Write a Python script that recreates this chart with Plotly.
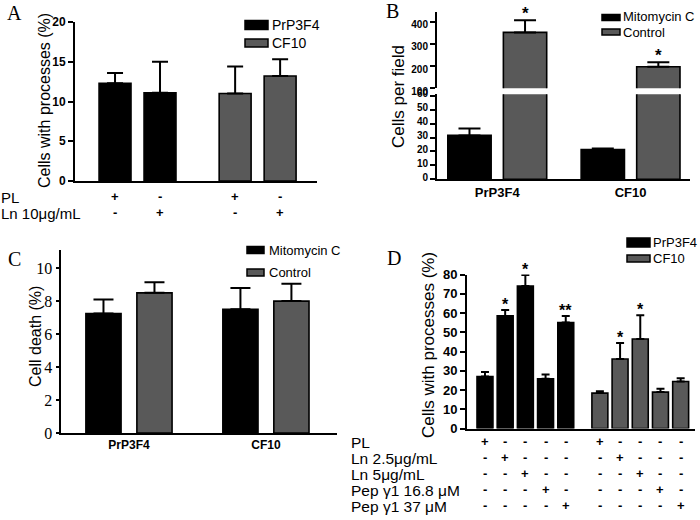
import plotly.graph_objects as go

W, H = 700, 520
SANS = "Liberation Sans, Arial, sans-serif"
SERIF = "Liberation Serif, Times New Roman, serif"
BLACK = "#000000"
GREY = "#595959"

# ---------------- data ----------------
# Panel A
A_cells = ["PrP3F4", "CF10"]
A_pl = ["+", "-", "+", "-"]
A_ln = ["-", "+", "-", "+"]
A_prp = [12.3, 11.1]
A_prp_err = [1.3, 3.9]
A_cf = [11.0, 13.2]
A_cf_err = [3.4, 2.1]
A_yticks = [0, 5, 10, 15, 20]

# Panel B
B_cells = ["PrP3F4", "CF10"]
B_mito = [31.5, 21.4]
B_mito_err = [5.0, 0.7]
B_ctrl = [352, 197]
B_ctrl_err = [55, 21]
B_ctrl_sig = ["*", "*"]
B_yticks_low = [0, 10, 20, 30, 40, 50, 60]
B_yticks_high = [100, 200, 300, 400]

# Panel C
C_cells = ["PrP3F4", "CF10"]
C_mito = [7.25, 7.5]
C_mito_err = [0.85, 1.3]
C_ctrl = [8.5, 8.0]
C_ctrl_err = [0.65, 1.05]
C_yticks = [0, 2, 4, 6, 8, 10]

# Panel D
D_treat = ["PL", "Ln 2.5\u03bcg/mL", "Ln 5\u03bcg/mL", "Pep \u03b31 16.8 \u03bcM", "Pep \u03b31 37 \u03bcM"]
D_prp = [27.0, 58.5, 74.0, 25.8, 55.1]
D_prp_err = [2.4, 3.1, 5.7, 2.2, 3.4]
D_prp_sig = ["", "*", "*", "", "**"]
D_cf = [18.4, 36.1, 46.5, 18.9, 24.4]
D_cf_err = [1.0, 8.3, 12.3, 1.7, 1.7]
D_cf_sig = ["", "*", "*", "", ""]
D_signs = [
    ["+", "-", "-", "-", "-"],
    ["-", "+", "-", "-", "-"],
    ["-", "-", "+", "-", "-"],
    ["-", "-", "-", "+", "-"],
    ["-", "-", "-", "-", "+"],
]
D_yticks = [0, 10, 20, 30, 40, 50, 60, 70, 80]


def PX(px):
    return px / W


def PY(py):
    return 1 - py / H


fig = go.Figure()
annotations = []
shapes = []


def bars(xs, ys, errs, color, xa, ya, width, capw):
    fig.add_trace(go.Bar(
        x=xs, y=ys, width=width, xaxis=xa, yaxis=ya, showlegend=False,
        marker=dict(color=color, line=dict(color=BLACK, width=1.6)),
        error_y=dict(type="data", symmetric=False, array=errs,
                     arrayminus=[0] * len(errs), color=BLACK,
                     thickness=2, width=capw),
        hoverinfo="skip",
    ))


def text(x, y, s, size, family=SANS, bold=False, xref="paper", yref="paper",
         xanchor="center", yanchor="middle", yshift=0, textangle=0):
    annotations.append(dict(
        x=x, y=y, xref=xref, yref=yref, text=s, showarrow=False,
        xanchor=xanchor, yanchor=yanchor, yshift=yshift, textangle=textangle,
        borderpad=0,
        font=dict(family=family, size=size, color=BLACK,
                  weight="bold" if bold else "normal"),
    ))


def swatch(x0, x1, yc, h, color):
    shapes.append(dict(type="rect", xref="paper", yref="paper",
                       x0=PX(x0), x1=PX(x1), y0=PY(yc + h / 2), y1=PY(yc - h / 2),
                       fillcolor=color, line=dict(color=BLACK, width=1.5)))


def yax(domain, rng, ticks, anchor, size, family=SANS, bold=True, ticklen=5,
        shift=0):
    return dict(domain=domain, range=rng, anchor=anchor, tickvals=ticks,
                showline=True, linecolor=BLACK, linewidth=2, ticks="outside",
                ticklen=ticklen, tickwidth=2, tickcolor=BLACK, showgrid=False,
                zeroline=False, fixedrange=True, automargin=False,
                ticklabelshift=shift,
                tickfont=dict(family=family, size=size, color=BLACK,
                              weight="bold" if bold else "normal"))


def xax(domain, rng, anchor, tickvals=None, ticktext=None, size=12):
    d = dict(domain=domain, range=rng, anchor=anchor, showline=True,
             linecolor=BLACK, linewidth=2, ticks="", showgrid=False,
             zeroline=False, fixedrange=True, automargin=False)
    if tickvals is None:
        d["showticklabels"] = False
    else:
        d.update(tickvals=tickvals, ticktext=ticktext,
                 tickfont=dict(family=SANS, size=size, color=BLACK, weight="bold"))
    return d


SIGN = 13

# ---------------- Panel A ----------------
A_gap = 2.67
A_x1 = [g * A_gap for g in range(len(A_cells))]
A_x_prp = [A_x1[0], A_x1[0] + 1]
A_x_cf = [A_x1[1], A_x1[1] + 1]
bars(A_x_prp, A_prp, A_prp_err, BLACK, "x", "y", 0.71, 8)
bars(A_x_cf, A_cf, A_cf_err, GREY, "x", "y", 0.71, 8)
A_all_x = A_x_prp + A_x_cf
for i, xv in enumerate(A_all_x):
    text(xv, PY(196), A_pl[i], SIGN, bold=True, xref="x")
    text(xv, PY(212), A_ln[i], SIGN, bold=True, xref="x")
text(0.0, PY(197), "PL", 15, xanchor="left")
text(0.0, PY(213), "Ln 10\u03bcg/mL", 15, xanchor="left")
text(PX(45), PY(100), "Cells with processes (%)", 16, textangle=-90)
text(PX(14), PY(13), "A", 20, family=SERIF)
swatch(245, 268, 25, 9, BLACK)
swatch(245, 268, 43, 8, GREY)
text(PX(271), PY(25), "PrP3F4", 14, xanchor="left")
text(PX(271), PY(43), "CF10", 14, xanchor="left")

# ---------------- Panel B ----------------
B_gap = 2.4
B_x_mito = [g * B_gap for g in range(len(B_cells))]
B_x_ctrl = [v + 1 for v in B_x_mito]
for ya in ("y2", "y3"):
    bars(B_x_mito, B_mito, B_mito_err, BLACK, "x2", ya, 0.78, 11)
    bars(B_x_ctrl, B_ctrl, B_ctrl_err, GREY, "x2", ya, 0.78, 11)
for i, xv in enumerate(B_x_ctrl):
    text(xv, B_ctrl[i] + B_ctrl_err[i], B_ctrl_sig[i], 17, bold=True,
         xref="x2", yref="y3", yanchor="bottom", yshift=-4)
text(PX(398), PY(97), "Cells per field", 17, textangle=-90)
text(PX(392), PY(11), "B", 20, family=SERIF)
swatch(602, 620, 17.5, 6, BLACK)
swatch(602, 620, 32, 6, GREY)
text(PX(622), PY(17), "Mitomycin C", 13, xanchor="left")
text(PX(622), PY(32), "Control", 13, xanchor="left")

# ---------------- Panel C ----------------
C_gap = 2.686
C_x_mito = [g * C_gap for g in range(len(C_cells))]
C_x_ctrl = [v + 1 for v in C_x_mito]
bars(C_x_mito, C_mito, C_mito_err, BLACK, "x3", "y4", 0.69, 10)
bars(C_x_ctrl, C_ctrl, C_ctrl_err, GREY, "x3", "y4", 0.69, 10)
text(PX(35), PY(337), "Cell death (%)", 16, textangle=-90)
text(PX(14), PY(259), "C", 20, family=SERIF)
swatch(247, 264, 250, 7, BLACK)
swatch(247, 264, 272.5, 7, GREY)
text(PX(268), PY(250), "Mitomycin C", 13, xanchor="left")
text(PX(268), PY(272), "Control", 13, xanchor="left")

# ---------------- Panel D ----------------
D_gap = 5.69
D_x_prp = [i for i in range(len(D_treat))]
D_x_cf = [D_gap + i for i in range(len(D_treat))]
bars(D_x_prp, D_prp, D_prp_err, BLACK, "x4", "y5", 0.79, 4)
bars(D_x_cf, D_cf, D_cf_err, GREY, "x4", "y5", 0.79, 4)
for xs, vals, errs, sig in ((D_x_prp, D_prp, D_prp_err, D_prp_sig),
                            (D_x_cf, D_cf, D_cf_err, D_cf_sig)):
    for xv, v, e, s in zip(xs, vals, errs, sig):
        if s:
            text(xv, v + e, s, 16, bold=True, xref="x4", yref="y5",
                 yanchor="bottom", yshift=-4)
D_rows_y = [442, 458, 474, 490, 506]
for r, name in enumerate(D_treat):
    text(PX(350), PY(D_rows_y[r]), name, 15.5, xanchor="left")
    for xs in (D_x_prp, D_x_cf):
        for i, xv in enumerate(xs):
            text(xv, PY(D_rows_y[r] - 1), D_signs[r][i], SIGN, bold=True, xref="x4")
text(PX(428), PY(345), "Cells with processes (%)", 17, textangle=-90)
text(PX(394), PY(258), "D", 20, family=SERIF)
swatch(627, 650, 242.5, 9, BLACK)
swatch(627, 650, 258.5, 7, GREY)
text(PX(652), PY(242), "PrP3F4", 13, xanchor="left")
text(PX(652), PY(258), "CF10", 13, xanchor="left")

fig.update_layout(
    width=W, height=H, margin=dict(l=0, r=0, t=0, b=0, autoexpand=False),
    paper_bgcolor="white", plot_bgcolor="white", barmode="overlay",
    showlegend=False,
    xaxis=xax([PX(75), PX(317)], [-0.89, 4.49], "y"),
    yaxis=yax([PY(181), PY(22)], [0, 20], A_yticks, "x", 12),
    xaxis2=xax([PX(437), PX(690)], [-0.585, 3.97], "y2",
               tickvals=[(a + b) / 2 for a, b in zip(B_x_mito, B_x_ctrl)],
               ticktext=B_cells, size=13),
    yaxis2=yax([PY(179.3), PY(94.3)], [0, 61], B_yticks_low, "x2", 10, shift=-2),
    yaxis3=yax([PY(88.3), PY(12)], [100, 444], B_yticks_high, "x2", 10, shift=3),
    xaxis3=xax([PX(60.5), PX(337)], [-0.843, 4.58], "y4",
               tickvals=[(a + b) / 2 for a, b in zip(C_x_mito, C_x_ctrl)],
               ticktext=C_cells, size=12),
    yaxis4=yax([PY(433), PY(250)], [0, 11.1], C_yticks, "x3", 16,
               family=SERIF, bold=False, ticklen=3),
    xaxis4=xax([PX(467), PX(695)], [-0.89, 10.4], "y5"),
    yaxis5=yax([PY(428.5), PY(274.5)], [0, 80], D_yticks, "x4", 13),
    annotations=annotations, shapes=shapes,
)

fig.write_html("out.html", config={"displayModeBar": False},
               post_script="document.body.style.margin='0px';document.body.style.overflow='hidden';")
